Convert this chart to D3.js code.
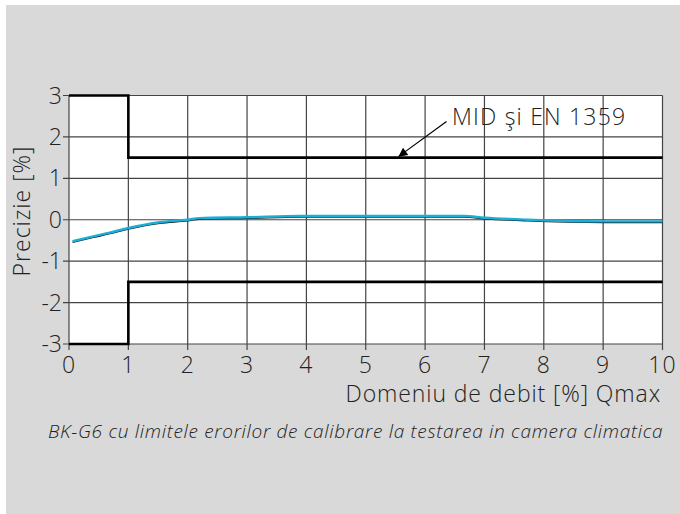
<!DOCTYPE html>
<html>
<head>
<meta charset="utf-8">
<script src="https://cdn.jsdelivr.net/npm/d3@7"></script>
<style>
  body { margin: 0; background: #fff; }
  text { font-family: "Open Sans", sans-serif; font-weight: 300; fill: #222; }
</style>
</head>
<body>
<div id="chart"></div>
<script>
var svgWidth = 680;
var svgHeight = 514;

// x ticks 0..10 (% Qmax), y ticks -3..3 (%)
var xTicks = [0, 1, 2, 3, 4, 5, 6, 7, 8, 9, 10];
var yTicks = [-3, -2, -1, 0, 1, 2, 3];

// MID / EN 1359 error limits
var upperLimit = [[0, 3], [1, 3], [1, 1.5], [10, 1.5]];
var lowerLimit = [[0, -3], [1, -3], [1, -1.5], [10, -1.5]];

var curveX = [0.06, 0.41, 0.69, 1.0, 1.53, 2.0, 2.2, 3.0, 3.9, 5.0, 6.0, 6.65, 7.0, 7.72, 9.0, 10.0];
var curveY = [-0.52, -0.4, -0.31, -0.2, -0.06, 0, 0.04, 0.06, 0.09, 0.09, 0.09, 0.09, 0.05, 0, -0.04, -0.04];

var annotationText = "MID şi EN 1359";
var xTitle = "Domeniu de debit [%] Qmax";
var yTitle = "Precizie [%]";
var caption = "BK-G6 cu limitele erorilor de calibrare la testarea in camera climatica";

var margin = { top: 95.5, left: 69, right: 17.5, bottom: 170 };
var width = 662.5 - margin.left;
var height = 344 - margin.top;

var svg = d3.select("#chart")
  .append("svg")
  .attr("width", svgWidth)
  .attr("height", svgHeight);

// gray panel
svg.append("rect")
  .attr("x", 6)
  .attr("y", 5)
  .attr("width", svgWidth - 6)
  .attr("height", svgHeight - 5)
  .attr("fill", "#d9d9d9");

var chartGroup = svg.append("g")
  .attr("transform", `translate(${margin.left}, ${margin.top})`);

var x = d3.scaleLinear().domain([0, 10]).range([0, width]);
var y = d3.scaleLinear().domain([-3, 3]).range([height, 0]);

chartGroup.append("rect")
  .attr("width", width)
  .attr("height", height)
  .attr("fill", "#fff");

// grid
chartGroup.selectAll(".vgrid")
  .data(xTicks)
  .enter()
  .append("line")
  .attr("x1", d => x(d))
  .attr("x2", d => x(d))
  .attr("y1", 0)
  .attr("y2", height + 6)
  .attr("stroke", "#444")
  .attr("stroke-width", 1.2);

chartGroup.selectAll(".hgrid")
  .data(yTicks)
  .enter()
  .append("line")
  .attr("x1", -6)
  .attr("x2", width)
  .attr("y1", d => y(d))
  .attr("y2", d => y(d))
  .attr("stroke", "#444")
  .attr("stroke-width", 1.2);

// tick labels
chartGroup.selectAll(".xlab")
  .data(xTicks)
  .enter()
  .append("text")
  .attr("x", d => x(d))
  .attr("y", height + 29)
  .attr("text-anchor", "middle")
  .attr("font-size", "23px")
  .attr("letter-spacing", "1px")
  .text(d => d);

chartGroup.selectAll(".ylab")
  .data(yTicks)
  .enter()
  .append("text")
  .attr("x", -7)
  .attr("y", d => y(d) + 8)
  .attr("text-anchor", "end")
  .attr("font-size", "23px")
  .text(d => String(d).replace("\u2212", "-"));

// limits
var limitLine = d3.line()
  .x(d => x(d[0]))
  .y(d => y(d[1]));

[upperLimit, lowerLimit].forEach(function(lim) {
  chartGroup.append("path")
    .attr("d", limitLine(lim))
    .attr("fill", "none")
    .attr("stroke", "#000")
    .attr("stroke-width", 2.6);
});

// curve: dark underline + cyan
var curve = curveX.map((v, i) => [v, curveY[i]]);
var curveLine = d3.line()
  .x(d => x(d[0]))
  .y(d => y(d[1]))
  .curve(d3.curveMonotoneX);

chartGroup.append("path")
  .attr("d", curveLine(curve))
  .attr("transform", "translate(0, 1)")
  .attr("fill", "none")
  .attr("stroke", "#1a1a1a")
  .attr("stroke-width", 1.6);

chartGroup.append("path")
  .attr("d", curveLine(curve))
  .attr("fill", "none")
  .attr("stroke", "#1aaed8")
  .attr("stroke-width", 2.4);

// annotation arrow
svg.append("defs").append("marker")
  .attr("id", "arrow")
  .attr("viewBox", "0 0 10 10")
  .attr("refX", 10)
  .attr("refY", 5)
  .attr("markerWidth", 14)
  .attr("markerHeight", 9)
  .attr("markerUnits", "userSpaceOnUse")
  .attr("orient", "auto")
  .append("path")
  .attr("d", "M0,0 L10,5 L0,10 z")
  .attr("fill", "#000");

chartGroup.append("line")
  .attr("x1", 446.5 - margin.left)
  .attr("y1", 121.5 - margin.top)
  .attr("x2", x(5.55))
  .attr("y2", y(1.5) - 1)
  .attr("stroke", "#000")
  .attr("stroke-width", 1.2)
  .attr("marker-end", "url(#arrow)");

svg.append("text")
  .attr("x", 452)
  .attr("y", 125)
  .attr("font-size", "23px")
  .attr("letter-spacing", "1.2px")
  .text(annotationText);

// axis titles
svg.append("text")
  .attr("x", 661)
  .attr("y", 402)
  .attr("text-anchor", "end")
  .attr("font-size", "23px")
  .attr("letter-spacing", "0.9px")
  .text(xTitle);

svg.append("text")
  .attr("transform", "translate(30, 211) rotate(-90)")
  .attr("text-anchor", "middle")
  .attr("font-size", "23px")
  .attr("letter-spacing", "1px")
  .text(yTitle);

// caption
svg.append("text")
  .attr("x", 48)
  .attr("y", 438)
  .attr("font-size", "19px")
  .attr("font-style", "italic")
  .attr("letter-spacing", "0.7px")
  .text(caption);
</script>
</body>
</html>
